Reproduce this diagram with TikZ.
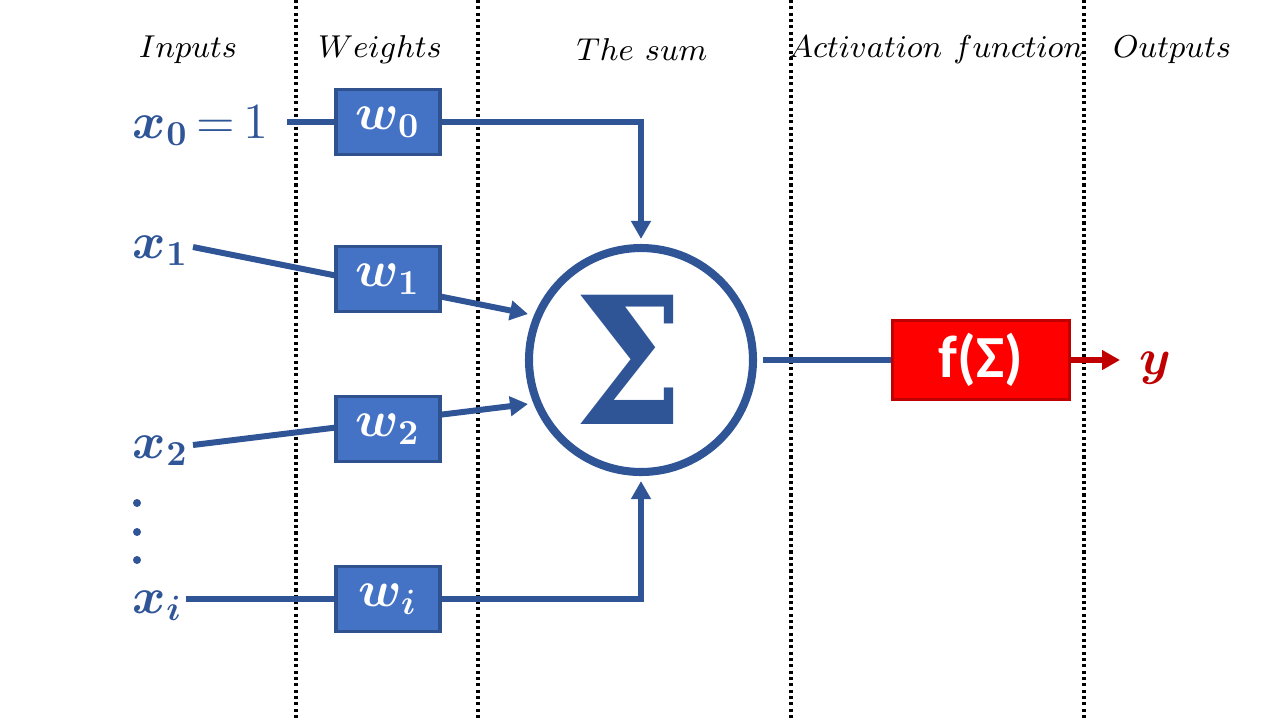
\documentclass[tikz,border=0pt]{standalone}
\usepackage[no-math]{fontspec}
\usepackage{amsmath,amssymb}
\usepackage{xcolor}
\usepackage{tikz}
\usetikzlibrary{arrows.meta}
\newfontfamily\calibri{Carlito}
\newfontfamily\sigmafont{DejaVu Serif}
\definecolor{nblue}{HTML}{2F5597}
\definecolor{wfill}{HTML}{4472C4}
\definecolor{wline}{HTML}{2F528F}
\definecolor{dred}{HTML}{C00000}

\begin{document}
\begin{tikzpicture}[x=0.1mm,y=-0.1mm,line width=1.7pt,
  every node/.style={inner sep=0pt},
  head/.style={font=\fontsize{9.5pt}{10pt}\selectfont},
  xlab/.style={anchor=base west,text=nblue,font=\fontsize{14pt}{16pt}\selectfont},
  wbox/.style={draw=wline,fill=wfill,line width=1pt,minimum width=10.4mm,
    minimum height=6.5mm,text=white,font=\fontsize{14pt}{16pt}\selectfont},
  fbox/.style={draw=dred,fill=red,line width=1pt,minimum width=17.7mm,
    minimum height=7.9mm,text=white,font=\fontsize{17pt}{19pt}\calibri\bfseries},
  sep/.style={line width=0.9pt,dash pattern=on 0.9pt off 0.9pt},
  arr/.style={-{Triangle[length=1.8mm,width=1.9mm]}}]
  \useasboundingbox (0,0) rectangle (1280,720);
  % column separators
  \foreach \sx in {296,478,791,1084} \draw[sep] (\sx,0) -- (\sx,720);
  % headings
  \node[head] (hin)  at (188,50)  {$Inputs$};
  \node[head] (hw)   at (380,50)  {$Weights$};
  \node[head] (hsum) at (642,50)  {$The\ sum$};
  \node[head] (hact) at (936,50)  {$Activation\ function$};
  \node[head] (hout) at (1172,50) {$Outputs$};
  % inputs
  \node[xlab] (x0) at (130,138) {$\boldsymbol{x_0}\mkern-2mu=\mkern-2mu1$};
  \node[xlab] (x1) at (130,258) {$\boldsymbol{x_1}$};
  \node[xlab] (x2) at (130,458) {$\boldsymbol{x_2}$};
  \node[xlab] (xi) at (130,613) {$\boldsymbol{x_i}$};
  \foreach \dy in {503,532,560} \fill[nblue] (137,\dy) circle (4);
  % slanted inputs run behind the weight boxes
  \coordinate (x1s) at (193,247);
  \coordinate (x1e) at (528,314);
  \coordinate (x2s) at (193,445);
  \coordinate (x2e) at (528,404);
  \draw[nblue,arr] (x1s) -- (x1e);
  \draw[nblue,arr] (x2s) -- (x2e);
  % weights
  \node[wbox] (w0) at (388,122) {$\boldsymbol{w_0}$};
  \node[wbox] (w1) at (388,279) {$\boldsymbol{w_1}$};
  \node[wbox] (w2) at (388,429) {$\boldsymbol{w_2}$};
  \node[wbox] (wi) at (388,599) {$\boldsymbol{w_i}$};
  % sum and activation
  \node[circle,draw=nblue,line width=2.3pt,minimum size=22.4mm,text=nblue,
    font=\fontsize{49pt}{49pt}\sigmafont\bfseries] (sum) at (641,360)
    {\kern-2.4mm\raisebox{-0.5mm}{\scalebox{0.9}[1.03]{Σ}}};
  \node[fbox] (f) at (981,360) {f(Σ)};
  \node[anchor=base west,text=dred,font=\fontsize{14pt}{16pt}\selectfont]
    (y) at (1137,374) {$\boldsymbol{y}$};
  \coordinate (x0s) at (287,122);
  \coordinate (xis) at (186,599);
  \coordinate (ytip) at (1120,360);
  % connectors
  \draw[nblue] (x0s) -- (w0.west);
  \draw[nblue] (xis) -- (wi.west);
  \draw[nblue,arr,shorten >=0.5mm] (w0.east) -| (sum.north);
  \draw[nblue,arr,shorten >=0.5mm] (wi.east) -| (sum.south);
  \draw[nblue,shorten <=0.6mm] (sum.east) -- (f.west);
  \draw[dred,arr] (f.east) -- (ytip);
\end{tikzpicture}
\end{document}
